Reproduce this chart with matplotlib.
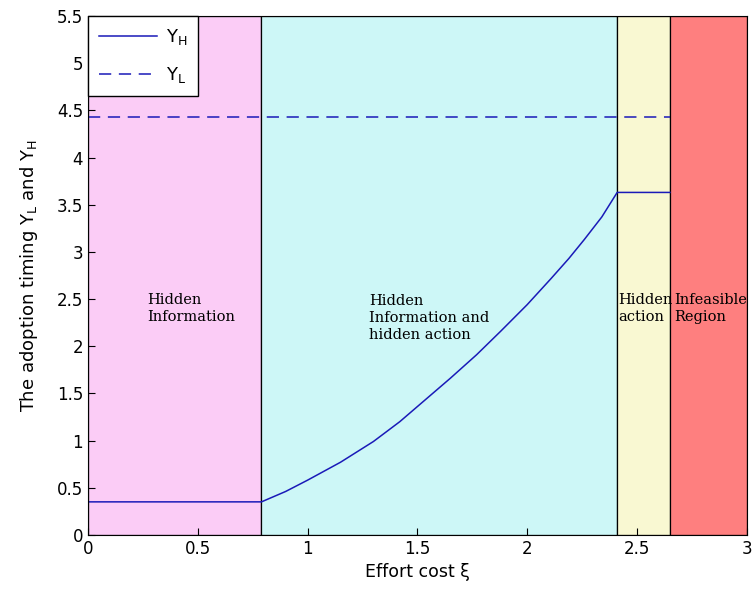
import matplotlib
matplotlib.use("Agg")
import matplotlib.pyplot as plt

# region boundaries along effort cost
bounds = [0.0, 0.79, 2.41, 2.65, 3.0]
region_colors = ["#fbccf6", "#cdf7f7", "#f9f8d2", "#fe7f7f"]
region_labels = ["Hidden\nInformation", "Hidden\nInformation and\nhidden action",
                 "Hidden\naction", "Infeasible\nRegion"]
label_x = [0.27, 1.28, 2.413, 2.672]
label_y = [2.4, 2.3, 2.4, 2.4]

# Y_H curve
xi_h = [0.0, 0.79, 0.9, 1.0, 1.15, 1.3, 1.42, 1.53, 1.65, 1.77, 1.88, 2.0, 2.11, 2.19,
        2.26, 2.34, 2.41, 2.65]
y_h = [0.35, 0.35, 0.46, 0.58, 0.77, 0.99, 1.2, 1.42, 1.66, 1.91, 2.16, 2.44, 2.72,
       2.93, 3.13, 3.37, 3.63, 3.63]

# Y_L constant
xi_l = [0.0, 2.65]
y_l = [4.43, 4.43]

fig = plt.figure(figsize=(7.52, 5.93), dpi=100)
ax = fig.add_axes([0.117, 0.098, 0.876, 0.875])

for i in range(len(region_colors)):
    ax.axvspan(bounds[i], bounds[i + 1], facecolor=region_colors[i],
               edgecolor="black", linewidth=0.9, zorder=0)
    ax.text(label_x[i], label_y[i], region_labels[i], family="DejaVu Serif",
            fontsize=10.5, va="center", ha="left", linespacing=1.3)

ax.plot(xi_h, y_h, color="#1a1ab8", linewidth=1.1, label=r"$\mathregular{Y_H}$")
ax.plot(xi_l, y_l, color="#1a1ab8", linewidth=1.1, dashes=(8, 5),
        label=r"$\mathregular{Y_L}$")

ax.set_xlim(0, 3)
ax.set_ylim(0, 5.5)
ax.set_xticks([0, 0.5, 1, 1.5, 2, 2.5, 3])
ax.set_xticklabels(["0", "0.5", "1", "1.5", "2", "2.5", "3"])
ax.set_yticks([i * 0.5 for i in range(12)])
ax.set_yticklabels(["0", "0.5", "1", "1.5", "2", "2.5", "3", "3.5", "4",
                    "4.5", "5", "5.5"])
ax.tick_params(direction="in", labelsize=12, length=5, top=False, right=False)
ax.set_xlabel("Effort cost ξ", fontsize=12.5)
ax.set_ylabel(r"The adoption timing $\mathregular{Y_L}$ and $\mathregular{Y_H}$",
              fontsize=13, labelpad=12)

leg = ax.legend(loc="upper left", fontsize=13, frameon=True, fancybox=False,
                borderaxespad=0, handlelength=3.2, framealpha=1,
                labelspacing=1.0, borderpad=0.6, handletextpad=0.5)
leg.get_frame().set_edgecolor("black")
leg.get_frame().set_linewidth(1.0)

fig.savefig("out.png", dpi=100)
